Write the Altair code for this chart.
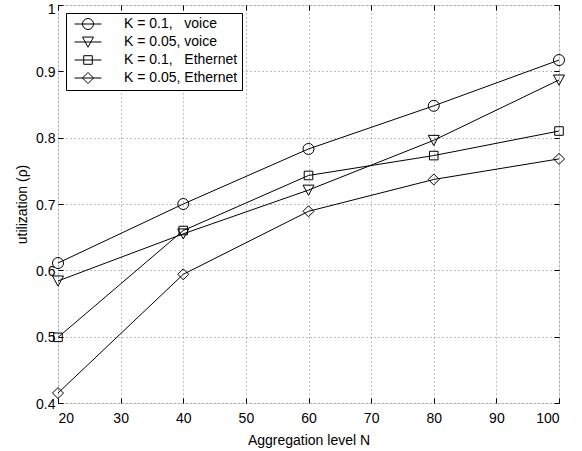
import altair as alt
import pandas as pd

# ---- data ----
N = [20, 40, 60, 80, 100]
series_names = [
    "K = 0.1,\u00a0\u00a0\u00a0voice",
    "K = 0.05, voice",
    "K = 0.1,\u00a0\u00a0\u00a0Ethernet",
    "K = 0.05, Ethernet",
]
k01_voice = [0.611, 0.700, 0.783, 0.848, 0.917]
k005_voice = [0.584, 0.655, 0.721, 0.796, 0.887]
k01_eth = [0.499, 0.660, 0.743, 0.773, 0.810]
k005_eth = [0.415, 0.594, 0.689, 0.737, 0.768]
x_ticks = [20, 30, 40, 50, 60, 70, 80, 90, 100]
y_ticks = [0.4, 0.5, 0.6, 0.7, 0.8, 0.9, 1.0]

rows = []
for name, vals in zip(series_names, [k01_voice, k005_voice, k01_eth, k005_eth]):
    for n, v in zip(N, vals):
        rows.append({"N": n, "rho": v, "series": name})
df = pd.DataFrame(rows)

# marker shapes (unit-square paths)
circle = "M -1 0 A 1 1 0 1 0 1 0 A 1 1 0 1 0 -1 0 Z"
tri_down = "M -1 -0.9 L 1 -0.9 L 0 0.95 Z"
square = "M -0.78 -0.78 L 0.78 -0.78 L 0.78 0.78 L -0.78 0.78 Z"
diamond = "M 0 -1 L 1 0 L 0 1 L -1 0 Z"
markers = [circle, tri_down, square, diamond]
seg = "M -2.45 0 L 2.45 0 "
legend_markers = [seg + m for m in markers]

FONT = "Liberation Sans"
GRID = "#808080"
xs = alt.Scale(domain=[20, 100], nice=False, zero=False)
ys = alt.Scale(domain=[0.4, 1.0], nice=False, zero=False)

base = alt.Chart(df)

lines = base.mark_line(color="black", strokeWidth=1).encode(
    x=alt.X("N:Q", scale=xs, axis=alt.Axis(
        orient="bottom", values=x_ticks, title="Aggregation level N",
        ticks=False, tickSize=0, domain=False, grid=True,
        gridColor=GRID, gridDash=[1, 3], gridWidth=1,
        labelFont=FONT, labelFontSize=14, labelColor="black", labelPadding=8,
        titleFont=FONT, titleFontSize=14, titleFontWeight="normal", titleColor="black",
        titleBaseline="alphabetic", titleY=41)),
    y=alt.Y("rho:Q", scale=ys, axis=alt.Axis(
        orient="left", values=y_ticks, title="utilization (\u03c1)", format=".1~f",
        labelExpr="datum.value > 0.99 ? '' : datum.label",
        ticks=False, tickSize=0, domain=False, grid=True,
        gridColor=GRID, gridDash=[1, 3], gridWidth=1,
        labelFont=FONT, labelFontSize=14, labelColor="black", labelPadding=3,
        labelOffset=1,
        titleFont=FONT, titleFontSize=14, titleFontWeight="normal", titleColor="black",
        titleBaseline="alphabetic", titleX=-32)),
    detail="series:N",
)

points = base.mark_point(filled=False, color="black", strokeWidth=1, size=121, opacity=1).encode(
    x=alt.X("N:Q", scale=xs, axis=alt.Axis(
        orient="bottom", values=x_ticks, title=None, labels=False, domain=False,
        grid=False, ticks=True, tickSize=5, tickColor="black", offset=-5)),
    y=alt.Y("rho:Q", scale=ys, axis=alt.Axis(
        orient="left", values=y_ticks, title=None, labels=True, format=".1~f",
        labelExpr="datum.value > 0.99 ? datum.label : ''",
        labelFont=FONT, labelFontSize=14, labelColor="black", labelPadding=3,
        labelOffset=4, domain=False,
        grid=False, ticks=True, tickSize=5, tickColor="black", offset=-5)),
    shape=alt.Shape("series:N", scale=alt.Scale(domain=series_names, range=markers), legend=None),
)

legend_layer = base.mark_point(filled=False, color="black", strokeWidth=1, size=121, opacity=1).encode(
    x=alt.X("N:Q", scale=xs, axis=alt.Axis(
        orient="top", values=x_ticks, title=None, labels=False, domain=False,
        grid=False, ticks=True, tickSize=5, tickColor="black", offset=-5)),
    y=alt.Y("rho:Q", scale=ys, axis=alt.Axis(
        orient="right", values=y_ticks, title=None, labels=False, domain=False,
        grid=False, ticks=True, tickSize=5, tickColor="black", offset=-5)),
    shape=alt.Shape("series:N", scale=alt.Scale(domain=series_names, range=legend_markers),
                    legend=alt.Legend(
                        title=None, orient="none", legendX=8, legendY=8,
                        padding=4, rowPadding=3,
                        strokeColor="black", fillColor="white",
                        symbolSize=121, symbolOffset=11, labelOffset=29,
                        symbolStrokeColor="black", symbolFillColor="transparent",
                        symbolStrokeWidth=1,
                        labelFont=FONT, labelFontSize=14, labelColor="black",
                        labelLimit=0)),
).transform_filter("false")

chart = alt.layer(lines, points, legend_layer).resolve_scale(
    shape="independent"
).resolve_axis(
    x="independent", y="independent"
).properties(
    width=501, height=398,
    autosize=alt.AutoSizeParams(type="none"),
    padding={"left": 58, "top": 5, "right": 23, "bottom": 48},
).configure_view(
    stroke="black", strokeWidth=1
).configure(background="white")

chart.save("out.html", embed_options={"renderer": "svg", "actions": False})
